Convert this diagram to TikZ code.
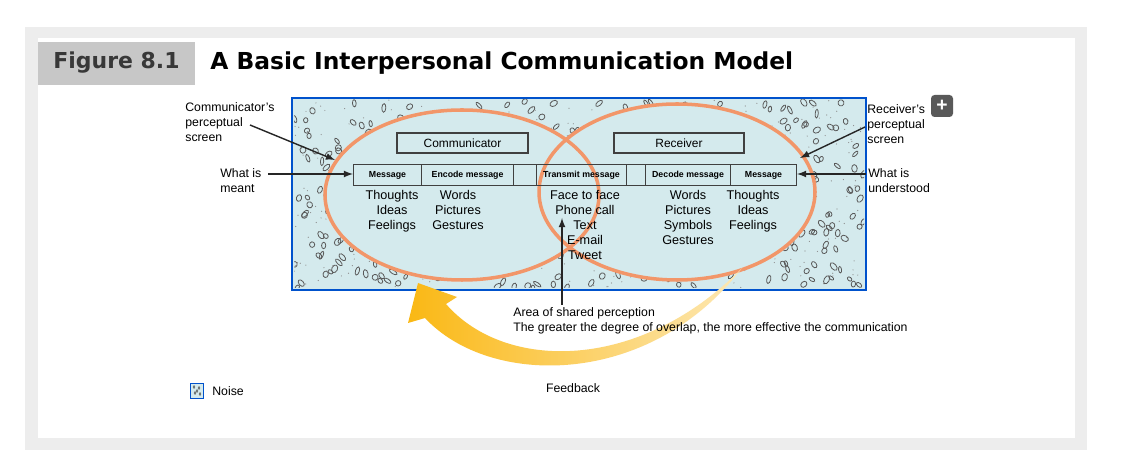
\documentclass[tikz,border=0pt]{standalone}
\usepackage{fontspec}
\setmainfont{Liberation Sans}
\newfontfamily\titlefont{DejaVu Sans}
\definecolor{panel}{RGB}{212,234,237}
\definecolor{ovl}{RGB}{242,150,105}
\definecolor{gold}{RGB}{250,184,20}
\definecolor{pale}{RGB}{253,232,180}
\begin{document}
\begin{tikzpicture}[x=0.02cm,y=-0.02cm,
  lbl/.style={font=\fontsize{7}{8.5}\selectfont, align=left, anchor=north west, inner sep=0},
  col/.style={font=\fontsize{7.2}{8.6}\selectfont, align=center, anchor=north, inner sep=0},
  cell/.style={draw=black!75, line width=0.6pt, minimum height=21*0.02cm, inner sep=0, anchor=north west, font=\fontsize{5}{6}\bfseries\selectfont},
  big/.style={draw=black!75, line width=0.6pt, inner sep=0, font=\fontsize{6.8}{8}\selectfont},
  arr/.style={-latex, line width=0.8pt, black!85},
  oval/.style={draw=ovl, line width=2pt}]
\useasboundingbox (0,0) rectangle (1121,455);
\fill[white] (0,0) rectangle (1121,455);
\fill[black!7] (25,27) rectangle (1087,450);
\fill[white] (38,38) rectangle (1075,438);
\fill[black!22] (38,42) rectangle (195,85);
\node[font=\titlefont\bfseries\fontsize{12.5}{14}\selectfont, text=black!78] (fig) at (116.5,63) {Figure 8.1};
\node[font=\titlefont\bfseries\fontsize{13.3}{15}\selectfont, anchor=west, inner sep=0] (title) at (210,63) {A Basic Interpersonal Communication Model};
% noise panel
\fill[panel] (292,98) rectangle (866,290);
\pgfmathsetseed{11}
\begin{scope}
\clip (294,100) rectangle (864,288);
\foreach \i in {1,...,420}{
  \pgfmathsetmacro{\px}{294+570*rnd}
  \pgfmathsetmacro{\py}{100+188*rnd}
  \pgfmathsetmacro{\rot}{-60+120*rnd}
  \pgfmathsetmacro{\ra}{2.5+2*rnd}
  \pgfmathsetmacro{\rb}{1.5+1.5*rnd}
  \draw[black!65, line width=0.45pt, rotate around={\rot:(\px,\py)}] (\px,\py) ellipse [x radius=\rb, y radius=\ra];
}
\foreach \i in {1,...,500}{
  \fill[black!45] (294+570*rnd,100+188*rnd) circle (0.6);
}
\end{scope}
\fill[panel] (462,195) ellipse [x radius=137, y radius=85];
\fill[panel] (677,192) ellipse [x radius=138, y radius=88];
\draw[oval] (462,195) ellipse [x radius=137, y radius=85];
\draw[oval] (677,192) ellipse [x radius=138, y radius=88];
\draw[blue!60!cyan!80!black, line width=1.2pt] (292,98) rectangle (866,290);
% boxes
\node[big, minimum width=131*0.02cm, minimum height=20*0.02cm] (comm) at (462.5,143) {Communicator};
\node[big, minimum width=130*0.02cm, minimum height=20*0.02cm] (recv) at (679,143) {Receiver};
\node[cell, minimum width=68*0.02cm] (m1) at (353,164) {Message};
\node[cell, minimum width=92*0.02cm] (enc) at (421,164) {Encode message};
\node[cell, minimum width=23*0.02cm] (e1) at (513,164) {};
\node[cell, minimum width=90*0.02cm] (tr) at (536,164) {Transmit message};
\node[cell, minimum width=19*0.02cm] (e2) at (626,164) {};
\node[cell, minimum width=85*0.02cm] (dec) at (645,164) {Decode message};
\node[cell, minimum width=66*0.02cm] (m2) at (730,164) {Message};
% columns
\node[col] (c1) at (392,190) {Thoughts\\Ideas\\Feelings};
\node[col] (c2) at (458,190) {Words\\Pictures\\Gestures};
\node[col] (c3) at (585,190) {Face to face\\Phone call\\Text\\E-mail\\Tweet};
\node[col] (c4) at (688,190) {Words\\Pictures\\Symbols\\Gestures};
\node[col] (c5) at (753,190) {Thoughts\\Ideas\\Feelings};
% feedback arrow
\shade[left color=gold, right color=pale]
  (742,268) .. controls (650,388) and (490,388) .. (425,318)
  -- (408,323) -- (418,283) -- (457,297) -- (446,304)
  .. controls (505,372) and (640,372) .. (742,268) -- cycle;
% labels
\node[lbl] (cps) at (185,102) {Communicator's\\perceptual\\screen};
\coordinate (cpsT) at (335,160);
\draw[arr] (250,125) -- (cpsT);
\node[lbl] (wim) at (220,168) {What is\\meant};
\draw[arr] (268,174) -- (m1.west |- 0,174);
\node[lbl] (rps) at (867,104) {Receiver's\\perceptual\\screen};
\coordinate (rpsT) at (800,158);
\draw[arr] (865,127) -- (rpsT);
\node[lbl] (wiu) at (868,168) {What is\\understood};
\draw[arr] (866,174) -- (m2.east |- 0,174);
\node[fill=black!65, rounded corners=2pt, minimum size=22*0.02cm, inner sep=0, text=white, font=\bfseries\fontsize{11}{11}\selectfont] (plus) at (942,106) {+};
\node[lbl] (area) at (513,307) {Area of shared perception\\The greater the degree of overlap, the more effective the communication};
\coordinate (shT) at (562,218);
\draw[arr] (562,305) -- (shT);
\node[font=\fontsize{7}{8}\selectfont] (fb) at (573,388) {Feedback};
\node[draw=blue!60!cyan!80!black, fill=panel, minimum width=13*0.02cm, minimum height=15*0.02cm, inner sep=0, line width=0.8pt] (nicon) at (197,391) {};
\foreach \a/\b in {-3/-4,2/-3,-2/2,3/3,0/0}{\draw[black!70,line width=0.3pt] (197+\a,391+\b) ellipse [x radius=0.9,y radius=1.4];}
\node[lbl, anchor=west] (noise) at (212,391) {Noise};
\end{tikzpicture}
\end{document}
